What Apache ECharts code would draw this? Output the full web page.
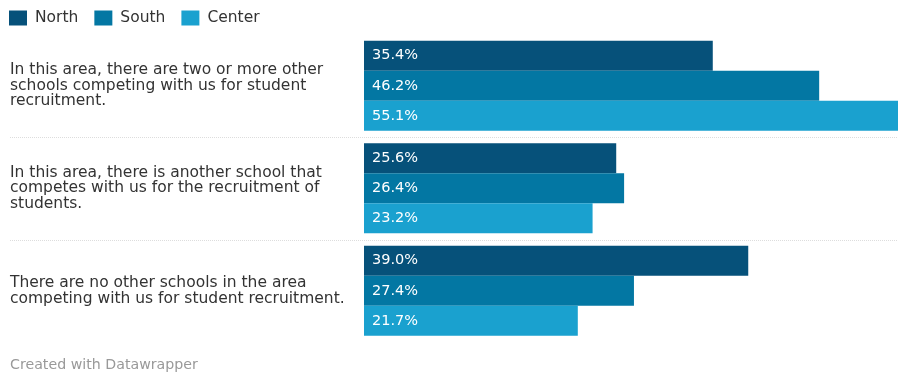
<!DOCTYPE html>
<html><head><meta charset="utf-8">
<script src="https://cdn.jsdelivr.net/npm/echarts@6/dist/echarts.min.js"></script>
<style>html,body{margin:0;padding:0;background:#fff}#c{width:898px;height:372px}</style>
</head><body><div id="c"></div>
<script>
const categories = [
  "In this area, there are two or more other\nschools competing with us for student\nrecruitment.",
  "In this area, there is another school that\ncompetes with us for the recruitment of\nstudents.",
  "There are no other schools in the area\ncompeting with us for student recruitment."
];
const seriesNames = ["North", "South", "Center"];
const north = [35.4, 25.6, 39.0];
const south = [46.2, 26.4, 27.4];
const center = [55.1, 23.2, 21.7];
const colors = ["#06517a", "#0377a3", "#1aa1cf"];
const values = [north, south, center];

const chart = echarts.init(document.getElementById('c'));
const FONT = 'DejaVu Sans';
const footer = {
  type: 'text', left: 10, top: 358,
  style: { text: 'Created with Datawrapper', fill: '#999', fontSize: 14.2, fontFamily: FONT }
};
chart.setOption({
  animation: false,
  textStyle: { fontFamily: FONT },
  legend: {
    left: 9, top: 10, padding: 0, itemWidth: 18, itemHeight: 15, itemGap: 16,
    icon: 'rect', data: seriesNames,
    textStyle: { fontSize: 15.5, color: '#333', fontFamily: FONT, padding: [0, 0, 0, 3] }
  },
  grid: { left: 364, right: 0, top: 34.5, height: 307.5 },
  xAxis: { type: 'value', min: 0, max: 54.2, show: false },
  yAxis: {
    type: 'category', data: categories, inverse: true,
    axisLine: { show: false }, axisTick: { show: false },
    axisLabel: { align: 'left', margin: 354, fontSize: 15.5, lineHeight: 15.5, color: '#333', fontFamily: FONT }
  },
  series: seriesNames.map((n, i) => ({
    name: n, type: 'bar', data: values[i], barGap: '0%', barCategoryGap: '12%',
    itemStyle: { color: colors[i] },
    label: { show: true, position: 'insideLeft', distance: 8, color: '#fff', fontSize: 14.5, fontFamily: FONT,
      formatter: p => p.value.toFixed(1) + '%' }
  })),
  graphic: [footer]
});
const py = categories.map((c, i) => chart.convertToPixel({ yAxisIndex: 0 }, i));
const seps = [ (py[0] + py[1]) / 2, (py[1] + py[2]) / 2 ];
chart.setOption({
  graphic: [footer].concat(seps.map(y => ({
    type: 'line', shape: { x1: 10, y1: Math.round(y) + 0.5, x2: 898, y2: Math.round(y) + 0.5 },
    style: { stroke: '#ddd', lineWidth: 1, lineDash: [1, 1] }
  })))
}, { replaceMerge: ['graphic'] });
</script></body></html>
